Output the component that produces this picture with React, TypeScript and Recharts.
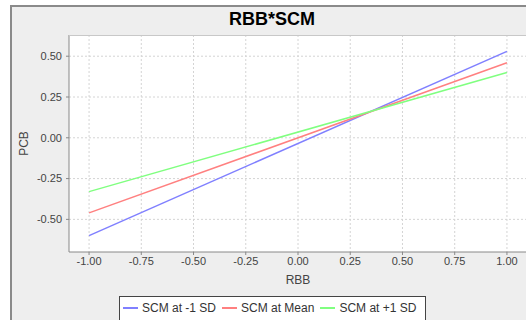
import { LineChart, Line, XAxis, YAxis, CartesianGrid } from "recharts";

const rbbValues = [-1, 1];
const scmLow = [-0.6, 0.53];
const scmMean = [-0.46, 0.46];
const scmHigh = [-0.33, 0.4];

const xTicks = [-1, -0.75, -0.5, -0.25, 0, 0.25, 0.5, 0.75, 1];
const yTicks = [-0.5, -0.25, 0, 0.25, 0.5];

const seriesNames = ["SCM at -1 SD", "SCM at Mean", "SCM at +1 SD"];
const seriesColors = ["#8080ff", "#ff8080", "#80ff80"];

const data = rbbValues.map((x, i) => ({
  rbb: x,
  low: scmLow[i],
  mean: scmMean[i],
  high: scmHigh[i],
}));

const font = "'Liberation Sans', Arial, sans-serif";
const tickStyle = { fontSize: 11, fill: "#444", fontFamily: font };

export default function App() {
  return (
    <div
      style={{
        position: "fixed",
        left: 0,
        top: 0,
        width: 526,
        height: 320,
        overflow: "hidden",
        background: "#fff",
        fontFamily: font,
      }}
    >
      <div
        style={{
          position: "absolute",
          left: 10,
          top: 5,
          width: 560,
          height: 340,
          background: "#eeeeee",
          borderTop: "2px solid #8a8a8a",
          borderLeft: "2px solid #8a8a8a",
        }}
      />
      <div
        style={{
          position: "absolute",
          left: 12,
          width: 520,
          top: 9,
          textAlign: "center",
          fontSize: 18,
          fontWeight: "bold",
          color: "#000",
        }}
      >
        RBB*SCM
      </div>
      <div style={{ position: "absolute", left: 0, top: 0, width: 560, height: 320 }}>
        <LineChart
          width={560}
          height={320}
          data={data}
          margin={{ top: 35, right: 33, left: 0, bottom: 28 }}
        >
          <CartesianGrid
            stroke="#d4d4d4"
            strokeDasharray="2 2"
            fill="#ffffff"
            horizontalValues={yTicks}
            verticalValues={xTicks}
          />
          <XAxis
            dataKey="rbb"
            type="number"
            domain={[-1.096, 1.096]}
            ticks={xTicks}
            tickFormatter={(v: number) => v.toFixed(2)}
            tick={tickStyle}
            tickSize={3}
            tickLine={{ stroke: "#888" }}
            axisLine={{ stroke: "#888" }}
            height={40}
            allowDataOverflow
            label={{
              content: ({ viewBox }: any) => (
                <text
                  x={viewBox.x + viewBox.width / 2}
                  y={viewBox.y + 28}
                  textAnchor="middle"
                  dominantBaseline="central"
                  fontSize={12}
                  fill="#444"
                  fontFamily={font}
                >
                  RBB
                </text>
              ),
            }}
          />
          <YAxis
            type="number"
            domain={[-0.7, 0.63]}
            ticks={yTicks}
            tickFormatter={(v: number) => v.toFixed(2)}
            tick={tickStyle}
            tickSize={3}
            tickMargin={4}
            tickLine={{ stroke: "#888" }}
            axisLine={{ stroke: "#888" }}
            width={69}
            allowDataOverflow
            label={{
              content: ({ viewBox }: any) => {
                const cx = 24;
                const cy = viewBox.y + viewBox.height / 2;
                return (
                  <text
                    x={cx}
                    y={cy}
                    transform={`rotate(-90, ${cx}, ${cy})`}
                    textAnchor="middle"
                    dominantBaseline="central"
                    fontSize={12}
                    fill="#444"
                    fontFamily={font}
                  >
                    PCB
                  </text>
                );
              },
            }}
          />
          <Line
            type="linear"
            dataKey="low"
            name={seriesNames[0]}
            stroke={seriesColors[0]}
            strokeWidth={1.5}
            dot={false}
            isAnimationActive={false}
          />
          <Line
            type="linear"
            dataKey="mean"
            name={seriesNames[1]}
            stroke={seriesColors[1]}
            strokeWidth={1.5}
            dot={false}
            isAnimationActive={false}
          />
          <Line
            type="linear"
            dataKey="high"
            name={seriesNames[2]}
            stroke={seriesColors[2]}
            strokeWidth={1.5}
            dot={false}
            isAnimationActive={false}
          />
        </LineChart>
      </div>
      <div
        style={{
          position: "absolute",
          left: 69,
          top: 35,
          width: 460,
          height: 0,
          borderTop: "1px solid #c8c8c8",
        }}
      />
      <div
        style={{
          position: "absolute",
          left: 119,
          top: 296,
          width: 307,
          height: 30,
          background: "#fff",
          border: "1px solid #444",
          display: "flex",
          alignItems: "flex-start",
          paddingTop: 4,
          paddingLeft: 3,
          boxSizing: "border-box",
          fontSize: 12,
          color: "#333",
        }}
      >
        {seriesNames.map((n, i) => (
          <div key={n} style={{ display: "flex", alignItems: "center", marginRight: 6 }}>
            <span
              style={{
                display: "inline-block",
                width: 15,
                height: 2,
                background: seriesColors[i],
                marginRight: 4,
              }}
            />
            <span>{n}</span>
          </div>
        ))}
      </div>
    </div>
  );
}
